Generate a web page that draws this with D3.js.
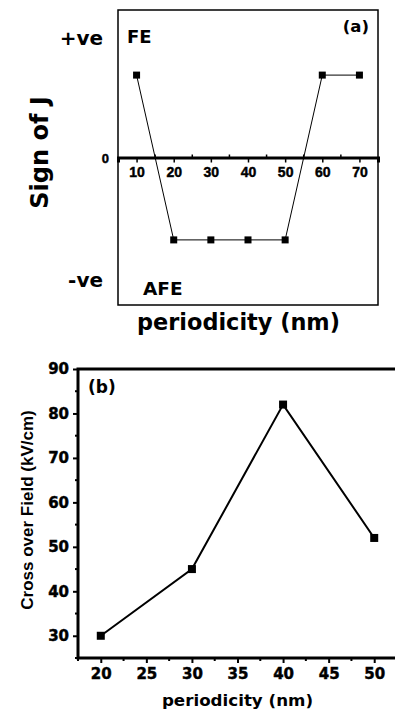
<!DOCTYPE html>
<html>
<head>
<meta charset="utf-8">
<script src="https://cdn.jsdelivr.net/npm/d3@7"></script>
<style>
  body { margin: 0; background: #fff; }
  svg { display: block; font-family: "DejaVu Sans", sans-serif; font-weight: bold; }
  .heavy { stroke: #000; stroke-width: 0.45px; }
</style>
</head>
<body>
<div id="chart"></div>
<script>
// panel (a): sign of the exchange J vs periodicity
var signPeriods = [10, 20, 30, 40, 50, 60, 70];
var signValues  = [1, -1, -1, -1, -1, 1, 1];
var signTicks   = [10, 20, 30, 40, 50, 60, 70];

// panel (b): cross over field vs periodicity
var fieldPeriods = [20, 30, 40, 50];
var fieldValues  = [30, 45, 82, 52];
var fieldXTicks  = [20, 25, 30, 35, 40, 45, 50];
var fieldYTicks  = [30, 40, 50, 60, 70, 80, 90];

var width = 395, height = 713;
var dejavu = '"DejaVu Sans", sans-serif';
var liberation = '"Liberation Sans", Arial, sans-serif';

var svg = d3.select('#chart')
	.append('svg')
	.attr('width', width)
	.attr('height', height);

function label(g, x, y, txt, size, anchor, family) {
	return g.append('text')
		.attr('x', x)
		.attr('y', y)
		.attr('text-anchor', anchor || 'start')
		.attr('font-size', size)
		.attr('font-family', family || dejavu)
		.text(txt);
}

// ---------- panel (a) ----------
var a = { left: 118, right: 378, top: 10, bottom: 305 };

var xa = d3.scaleLinear().domain([5, 75]).range([a.left, a.right]);
var ya = d3.scaleLinear().domain([-1.79, 1.79]).range([a.bottom, a.top]);

var ga = svg.append('g');

ga.append('rect')
	.attr('x', a.left)
	.attr('y', a.top)
	.attr('width', a.right - a.left)
	.attr('height', a.bottom - a.top)
	.attr('fill', 'none')
	.attr('stroke', '#000')
	.attr('stroke-width', 1.5);

// zero line carries the x ticks
var axisA = d3.axisBottom(xa)
	.tickValues(signTicks)
	.tickSize(5)
	.tickPadding(5)
	.tickFormat(d3.format('d'));

var ax = ga.append('g')
	.attr('transform', 'translate(0,' + ya(0) + ')')
	.call(axisA);
ax.select('.domain').attr('stroke-width', 3);
ax.selectAll('.tick line').attr('stroke-width', 1.5);
ax.selectAll('.tick text')
	.attr('class', 'heavy')
	.attr('font-size', 14)
	.attr('font-family', liberation)
	.attr('font-weight', 'bold');

// minor ticks sit on top of the line
ga.selectAll('.minorA')
	.data(d3.range(15, 75, 10))
	.enter()
	.append('line')
	.attr('x1', function(d) { return xa(d); })
	.attr('x2', function(d) { return xa(d); })
	.attr('y1', ya(0) - 3)
	.attr('y2', ya(0))
	.attr('stroke', '#000')
	.attr('stroke-width', 1.5);

var lineA = d3.line()
	.x(function(d, i) { return xa(signPeriods[i]); })
	.y(function(d) { return ya(d); });

ga.append('path')
	.datum(signValues)
	.attr('d', lineA)
	.attr('fill', 'none')
	.attr('stroke', '#000')
	.attr('stroke-width', 1);

ga.selectAll('.markA')
	.data(signValues)
	.enter()
	.append('rect')
	.attr('x', function(d, i) { return xa(signPeriods[i]) - 3.5; })
	.attr('y', function(d) { return ya(d) - 3.5; })
	.attr('width', 7)
	.attr('height', 7)
	.attr('fill', '#000');

label(ga, 103, 45, '+ve', 20, 'end');
label(ga, 103, 287, '-ve', 20, 'end');
label(ga, 109, 163, '0', 13, 'end', liberation).attr('class', 'heavy');
label(ga, 127, 43, 'FE', 18);
label(ga, 143, 295, 'AFE', 18.5);
label(ga, 369, 32, '(a)', 16.5, 'end');

ga.append('text')
	.attr('transform', 'translate(47.5,152.5) rotate(-90)')
	.attr('text-anchor', 'middle')
	.attr('font-size', 24)
	.text('Sign of J');

label(ga, 238.5, 330, 'periodicity (nm)', 22.4, 'middle');

// ---------- panel (b) ----------
var b = { left: 78, right: 397, top: 369, bottom: 658 };

var xb = d3.scaleLinear().domain([17.5, 52.5]).range([b.left, b.right]);
var yb = d3.scaleLinear().domain([25, 90]).range([b.bottom, b.top]);

var gb = svg.append('g');

function styleTicks(sel) {
	sel.selectAll('.tick line').attr('stroke-width', 2);
	sel.selectAll('.tick text')
		.attr('class', 'heavy')
		.attr('font-size', 15)
		.attr('font-family', dejavu)
		.attr('font-weight', 'bold');
	sel.select('.domain').remove();
}

var bx = gb.append('g')
	.attr('transform', 'translate(0,' + b.bottom + ')')
	.call(d3.axisBottom(xb).tickValues(fieldXTicks).tickSize(5).tickPadding(5).tickFormat(d3.format('d')));
styleTicks(bx);

var by = gb.append('g')
	.attr('transform', 'translate(' + b.left + ',0)')
	.call(d3.axisLeft(yb).tickValues(fieldYTicks).tickSize(5).tickPadding(4).tickFormat(d3.format('d')));
styleTicks(by);

// minor ticks halfway between the labelled ones
gb.selectAll('.minorBy')
	.data(d3.range(25, 90, 10))
	.enter()
	.append('line')
	.attr('x1', b.left - 3)
	.attr('x2', b.left)
	.attr('y1', function(d) { return yb(d); })
	.attr('y2', function(d) { return yb(d); })
	.attr('stroke', '#000')
	.attr('stroke-width', 2);

gb.selectAll('.minorBx')
	.data(d3.range(17.5, 52.5, 5))
	.enter()
	.append('line')
	.attr('x1', function(d) { return xb(d); })
	.attr('x2', function(d) { return xb(d); })
	.attr('y1', b.bottom)
	.attr('y2', b.bottom + 3)
	.attr('stroke', '#000')
	.attr('stroke-width', 2);

// frame: top, left, bottom (right edge runs off the page)
gb.append('path')
	.attr('d', 'M' + b.right + ',' + b.top + 'H' + b.left + 'V' + b.bottom + 'H' + b.right)
	.attr('fill', 'none')
	.attr('stroke', '#000')
	.attr('stroke-width', 3);

var lineB = d3.line()
	.x(function(d, i) { return xb(fieldPeriods[i]); })
	.y(function(d) { return yb(d); });

gb.append('path')
	.datum(fieldValues)
	.attr('d', lineB)
	.attr('fill', 'none')
	.attr('stroke', '#000')
	.attr('stroke-width', 2);

gb.selectAll('.markB')
	.data(fieldValues)
	.enter()
	.append('rect')
	.attr('x', function(d, i) { return xb(fieldPeriods[i]) - 4; })
	.attr('y', function(d) { return yb(d) - 4; })
	.attr('width', 8)
	.attr('height', 8)
	.attr('fill', '#000');

label(gb, 88, 393, '(b)', 17);

gb.append('text')
	.attr('transform', 'translate(33,510) rotate(-90)')
	.attr('text-anchor', 'middle')
	.attr('font-size', 17)
	.attr('font-family', liberation)
	.text('Cross over Field (kV/cm)');

label(gb, 237.5, 706, 'periodicity (nm)', 16.7, 'middle');
</script>
</body>
</html>
